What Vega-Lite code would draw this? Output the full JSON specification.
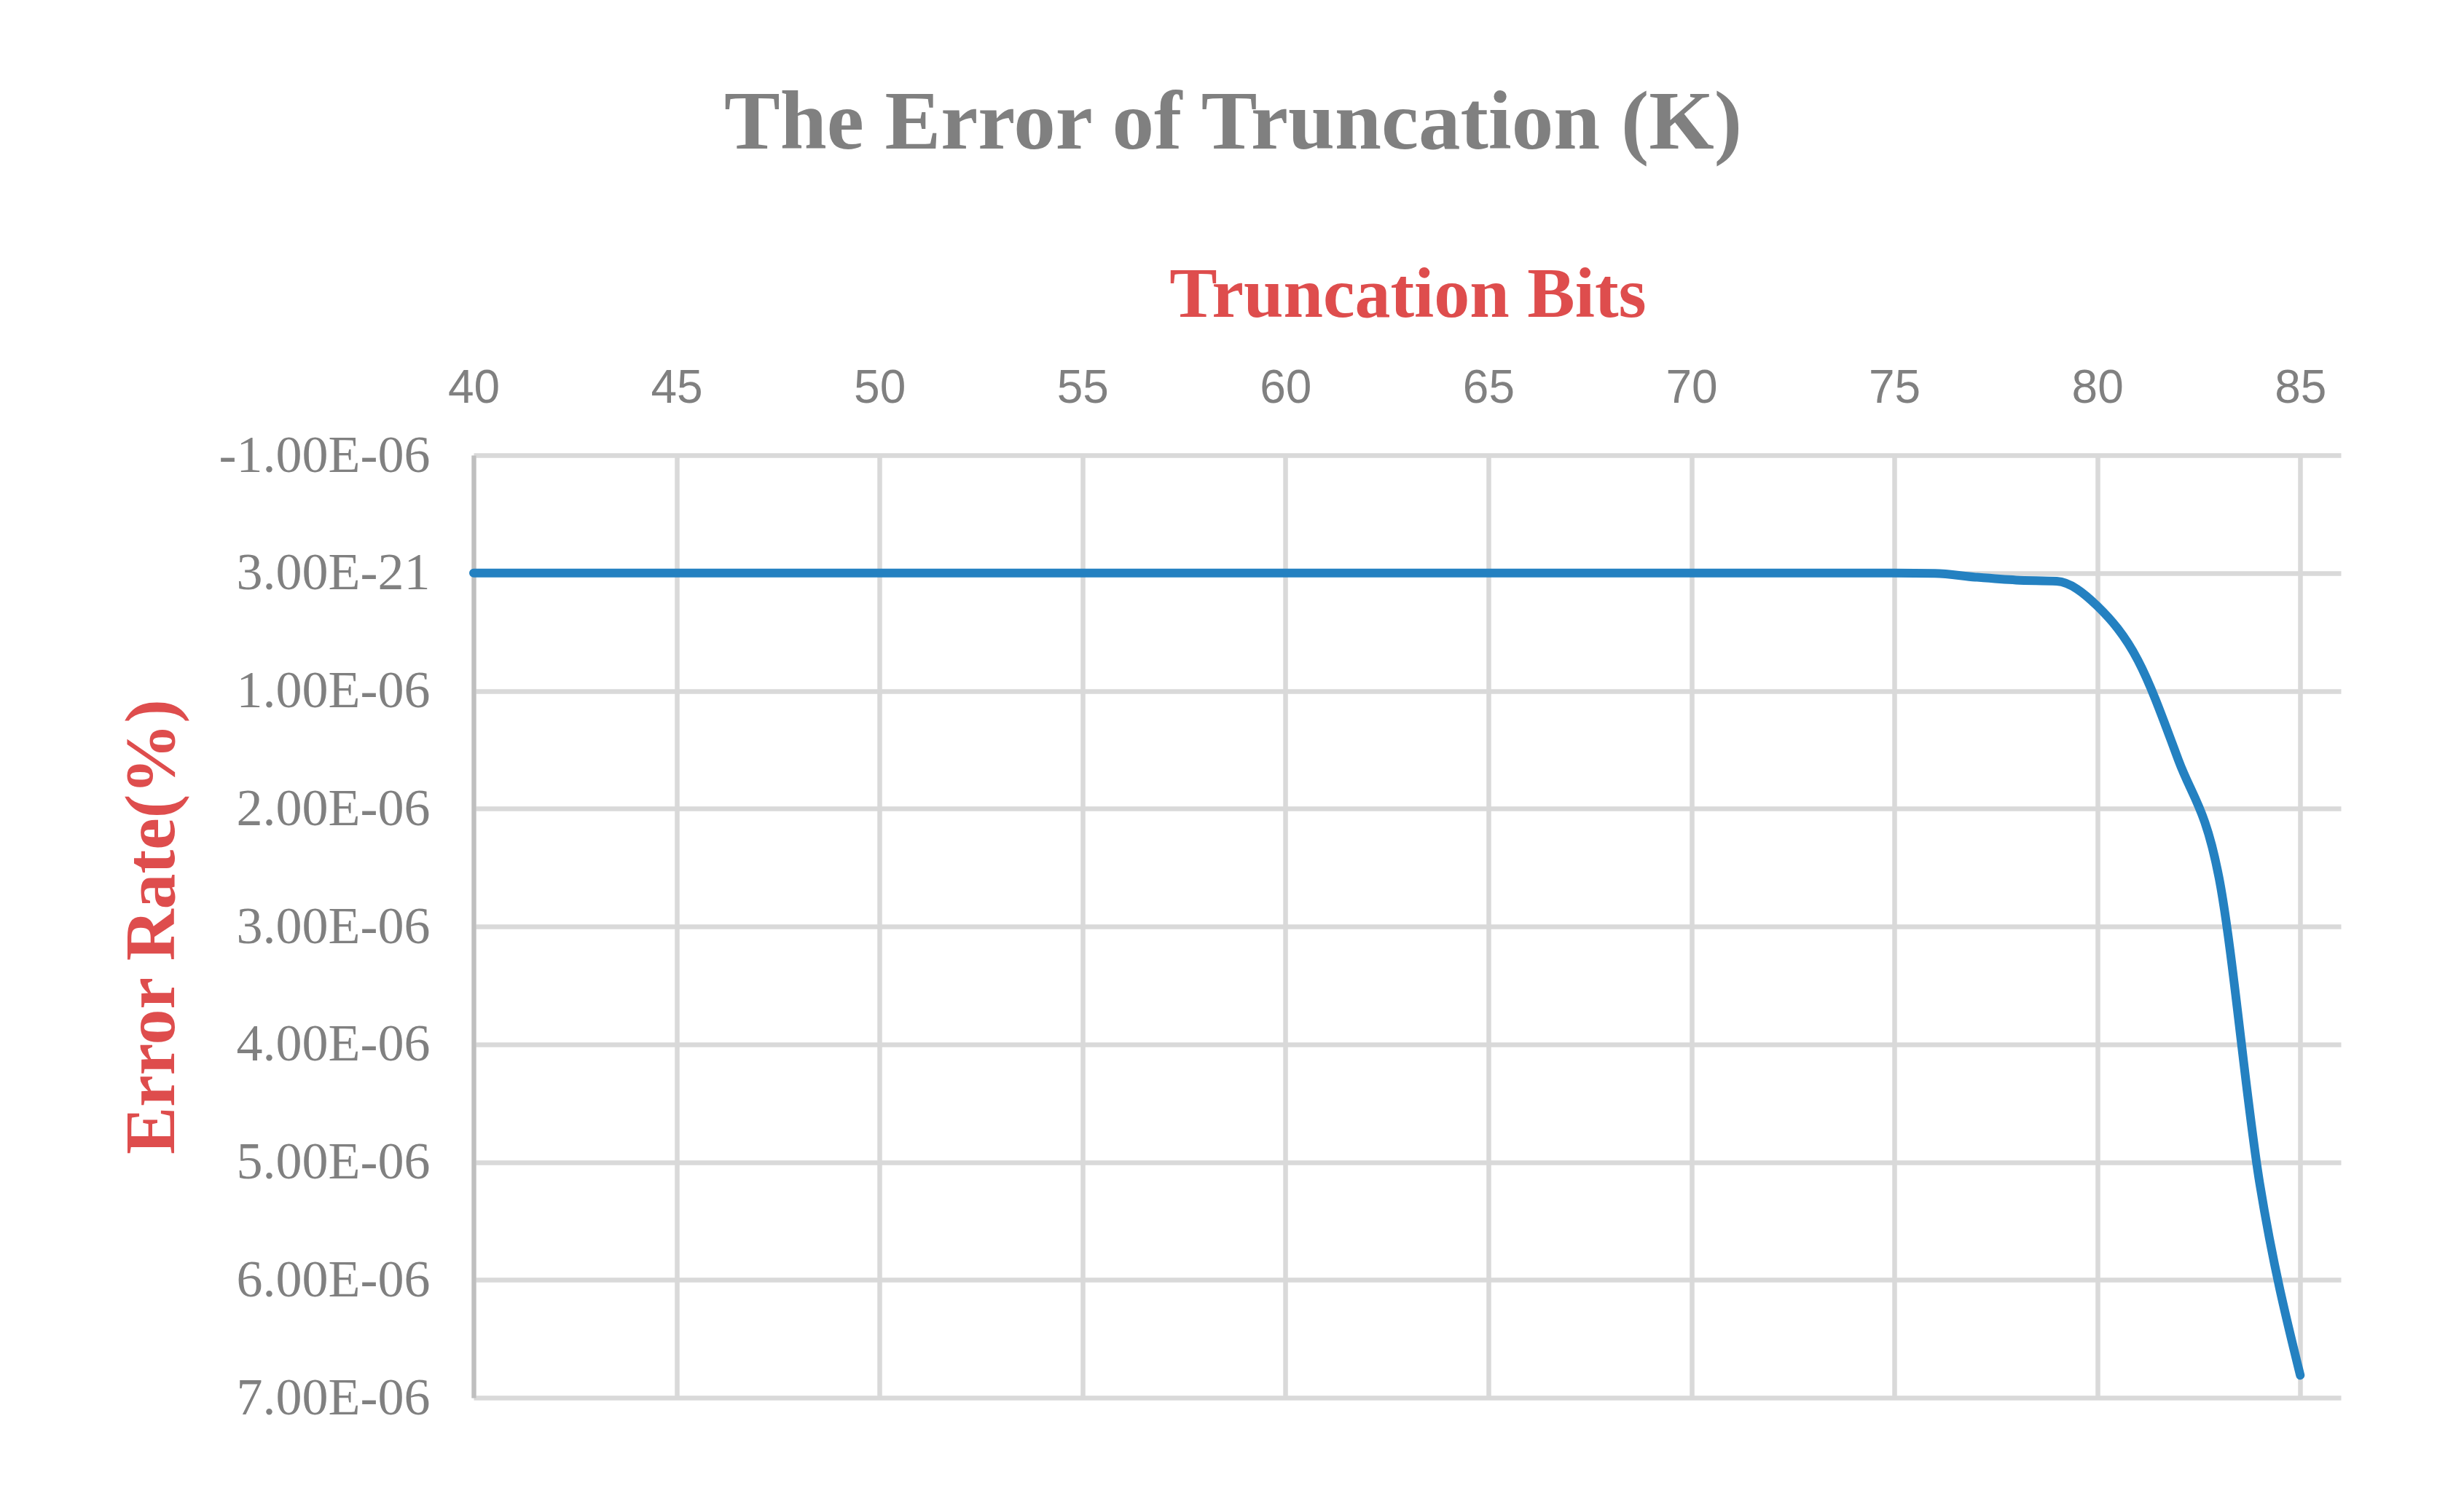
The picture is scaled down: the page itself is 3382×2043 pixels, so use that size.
{
  "$schema": "https://vega.github.io/schema/vega-lite/v6.json",
  "width": 2563,
  "height": 1294,
  "autosize": {"type": "none"},
  "padding": {"left": 650, "top": 625, "right": 169, "bottom": 124},
  "background": "white",
  "title": {
    "text": "The Error of Truncation (K)",
    "font": "Liberation Serif",
    "fontWeight": "bold",
    "fontSize": 115,
    "color": "#808080",
    "anchor": "middle",
    "frame": "group",
    "dx": -239,
    "baseline": "alphabetic",
    "offset": 37,
    "limit": 3000
  },
  "data": {
    "values": [
      {"bits": 40, "err": 0}, {"bits": 41, "err": 0}, {"bits": 42, "err": 0}, {"bits": 43, "err": 0},
      {"bits": 44, "err": 0}, {"bits": 45, "err": 0}, {"bits": 46, "err": 0}, {"bits": 47, "err": 0},
      {"bits": 48, "err": 0}, {"bits": 49, "err": 0}, {"bits": 50, "err": 0}, {"bits": 51, "err": 0},
      {"bits": 52, "err": 0}, {"bits": 53, "err": 0}, {"bits": 54, "err": 0}, {"bits": 55, "err": 0},
      {"bits": 56, "err": 0}, {"bits": 57, "err": 0}, {"bits": 58, "err": 0}, {"bits": 59, "err": 0},
      {"bits": 60, "err": 0}, {"bits": 61, "err": 0}, {"bits": 62, "err": 0}, {"bits": 63, "err": 0},
      {"bits": 64, "err": 0}, {"bits": 65, "err": 0}, {"bits": 66, "err": 0}, {"bits": 67, "err": 0},
      {"bits": 68, "err": 0}, {"bits": 69, "err": 0}, {"bits": 70, "err": 0}, {"bits": 71, "err": 0},
      {"bits": 72, "err": 0}, {"bits": 73, "err": 0}, {"bits": 74, "err": 0}, {"bits": 75, "err": 0},
      {"bits": 76, "err": 3e-9},
      {"bits": 77, "err": 3.5e-8},
      {"bits": 78, "err": 6e-8},
      {"bits": 79, "err": 7e-8},
      {"bits": 80, "err": 2.8e-7},
      {"bits": 81, "err": 7.4e-7},
      {"bits": 82, "err": 1.59e-6},
      {"bits": 83, "err": 2.59e-6},
      {"bits": 84, "err": 5.18e-6},
      {"bits": 85, "err": 6.81e-6}
    ]
  },
  "encoding": {
    "x": {
      "field": "bits",
      "type": "quantitative",
      "scale": {"domain": [40, 86], "nice": false, "zero": false},
      "axis": {
        "orient": "top",
        "values": [40, 45, 50, 55, 60, 65, 70, 75, 80, 85],
        "grid": true,
        "gridColor": "#d9d9d9",
        "gridWidth": 6.5,
        "domain": false,
        "ticks": false,
        "tickSize": 0,
        "labelFont": "Liberation Sans",
        "labelFontSize": 64,
        "labelColor": "#808080",
        "labelBaseline": "alphabetic",
        "labelPadding": 73,
        "labelFlush": false,
        "title": "Truncation Bits",
        "titleFont": "Liberation Serif",
        "titleFontWeight": "bold",
        "titleFontSize": 98,
        "titleColor": "#DE4D4D",
        "titleX": 1282,
        "titleY": -220,
        "titleBaseline": "middle",
        "titleAlign": "center",
        "titleLimit": 3000
      }
    },
    "y": {
      "field": "err",
      "type": "quantitative",
      "scale": {"domain": [-1e-6, 7e-6], "nice": false, "zero": false, "reverse": true},
      "axis": {
        "values": [-1e-6, 0, 1e-6, 2e-6, 3e-6, 4e-6, 5e-6, 6e-6, 7e-6],
        "labelExpr": "datum.value == 0 ? '3.00E-21' : (datum.value < 0 ? '-' : '') + format(abs(datum.value) * 1e6, '.2f') + 'E-06'",
        "grid": true,
        "gridColor": "#d9d9d9",
        "gridWidth": 6.5,
        "domain": true,
        "domainColor": "#bfbfbf",
        "domainWidth": 6,
        "ticks": false,
        "tickSize": 0,
        "labelFont": "Liberation Serif",
        "labelFontSize": 72,
        "labelColor": "#808080",
        "labelPadding": 60,
        "labelFlush": false,
        "labelLimit": 1000,
        "title": "Error Rate(%)",
        "titleFont": "Liberation Serif",
        "titleFontWeight": "bold",
        "titleFontSize": 98,
        "titleColor": "#DE4D4D",
        "titleX": -441,
        "titleY": 647,
        "titleBaseline": "middle",
        "titleAlign": "center",
        "titleAngle": -90,
        "titleLimit": 3000
      }
    }
  },
  "layer": [
    {
      "mark": {"type": "rule", "color": "#bfbfbf", "strokeWidth": 6.5},
      "encoding": {"y": {"datum": 0}}
    },
    {
      "mark": {"type": "line", "color": "#2481C1", "strokeWidth": 12, "interpolate": "monotone", "strokeCap": "round", "strokeJoin": "round"}
    }
  ],
  "config": {"view": {"stroke": null}}
}
